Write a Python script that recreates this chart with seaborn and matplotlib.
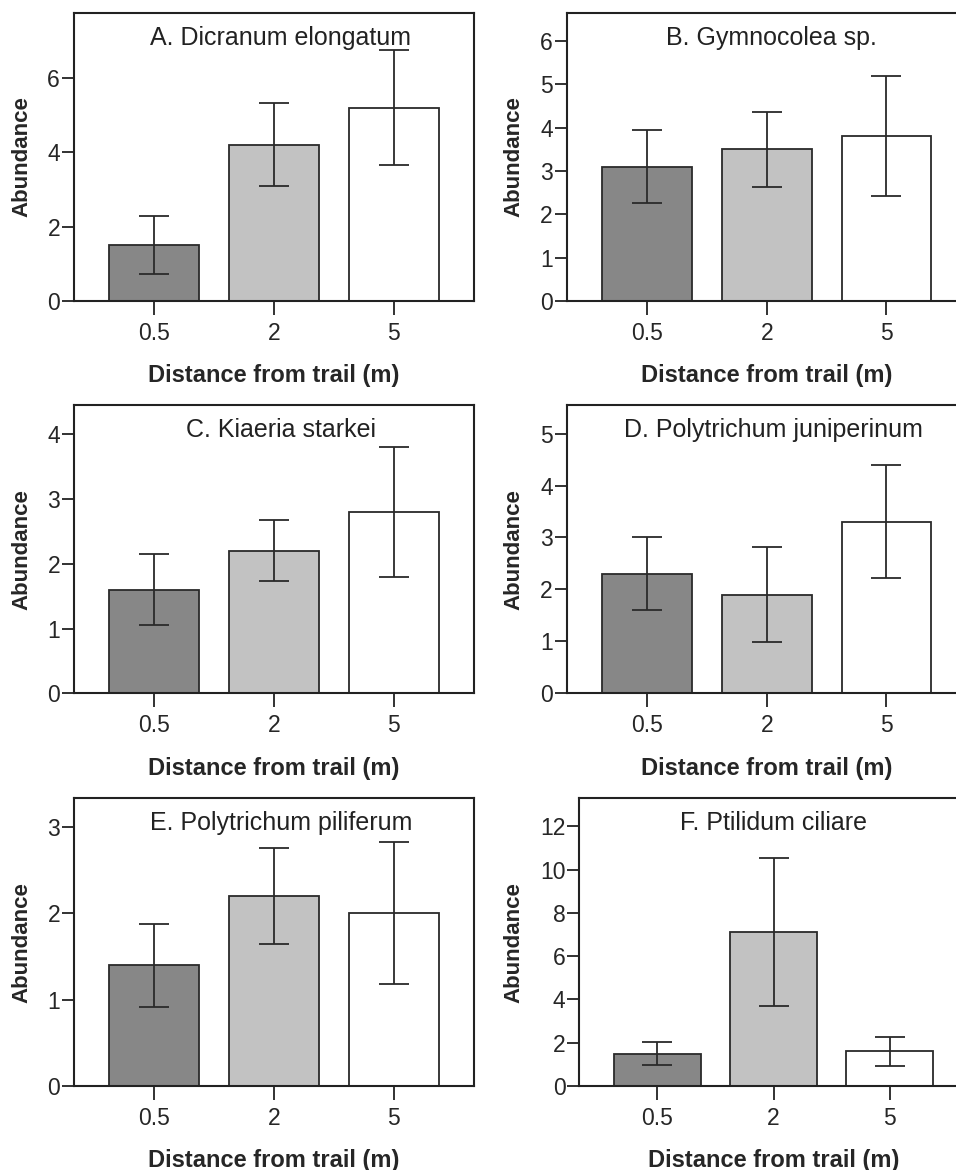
import numpy as np
import pandas as pd
import seaborn as sns
import matplotlib
matplotlib.use("Agg")
import matplotlib.pyplot as plt

# %%
distances = ["0.5", "2", "5"]
titles = ["A. Dicranum elongatum", "B. Gymnocolea sp.", "C. Kiaeria starkei",
          "D. Polytrichum juniperinum", "E. Polytrichum piliferum", "F. Ptilidum ciliare"]

# mean abundance per distance, and half-length of the error bar
means_A = [1.5, 4.2, 5.2]
errs_A = [0.78, 1.12, 1.55]
means_B = [3.1, 3.5, 3.8]
errs_B = [0.85, 0.86, 1.38]
means_C = [1.6, 2.2, 2.8]
errs_C = [0.55, 0.47, 1.0]
means_D = [2.3, 1.9, 3.3]
errs_D = [0.70, 0.92, 1.09]
means_E = [1.4, 2.2, 2.0]
errs_E = [0.48, 0.56, 0.82]
means_F = [1.5, 7.1, 1.6]
errs_F = [0.55, 3.42, 0.66]

all_means = [means_A, means_B, means_C, means_D, means_E, means_F]
all_errs = [errs_A, errs_B, errs_C, errs_D, errs_E, errs_F]

y_tops = [7.75, 6.65, 4.45, 5.55, 3.33, 13.3]
y_steps = [2, 1, 1, 1, 1, 2]
y_maxtick = [6, 6, 4, 5, 3, 12]

# %%
sns.set_style("white")
plt.rcParams["font.family"] = ["Liberation Sans", "DejaVu Sans"]

bar_colors = ["#878787", "#c2c2c2", "#ffffff"]

W, H = 956, 1170
fig = plt.figure(figsize=(W / 100, H / 100), dpi=100)

# axes rectangles in pixels: left, top, width, height
rects = [(74, 12.7, 400, 288.3), (566.7, 12.7, 400, 288.3),
         (74, 405, 400, 288.3), (566.7, 405, 400, 288.3),
         (74, 798.3, 400, 287.7), (579.3, 798.3, 388.5, 287.7)]
title_x = [0.515, 0.513, 0.518, 0.518, 0.517, 0.50]

for k in range(6):
    l, t, w, h = rects[k]
    ax = fig.add_axes([l / W, 1 - (t + h) / H, w / W, h / H])
    df = pd.DataFrame({"Distance": distances, "Abundance": all_means[k]})
    sns.barplot(data=df, x="Distance", y="Abundance", hue="Distance",
                palette=bar_colors, legend=False, errorbar=None, width=0.75,
                edgecolor="#2a2a2a", linewidth=1.3, ax=ax)
    ax.errorbar(x=np.arange(3), y=all_means[k], yerr=all_errs[k], fmt="none",
                ecolor="#2a2a2a", elinewidth=1.3, capsize=11, capthick=1.3)
    ax.set_xlim(-0.67, 2.67)
    ax.set_ylim(0, y_tops[k])
    ax.set_yticks(np.arange(0, y_maxtick[k] + 1, y_steps[k]))
    for s in ax.spines.values():
        s.set_visible(True)
        s.set_color("#222222")
        s.set_linewidth(1.5)
    ax.tick_params(axis="x", direction="out", length=10, width=1.3, pad=5,
                   labelsize=16.5, color="#222222", bottom=True)
    ax.tick_params(axis="y", direction="out", length=9, width=1.3, pad=1,
                   labelsize=16.5, color="#222222", left=True)
    ax.set_xlabel("Distance from trail (m)", fontsize=17, fontweight="bold", labelpad=14)
    ax.set_ylabel("Abundance", fontsize=16, fontweight="bold", labelpad=11)
    ax.text(title_x[k], 0.955, titles[k], transform=ax.transAxes,
            ha="center", va="top", fontsize=18, color="#222222")

plt.savefig("out.png", dpi=100)
